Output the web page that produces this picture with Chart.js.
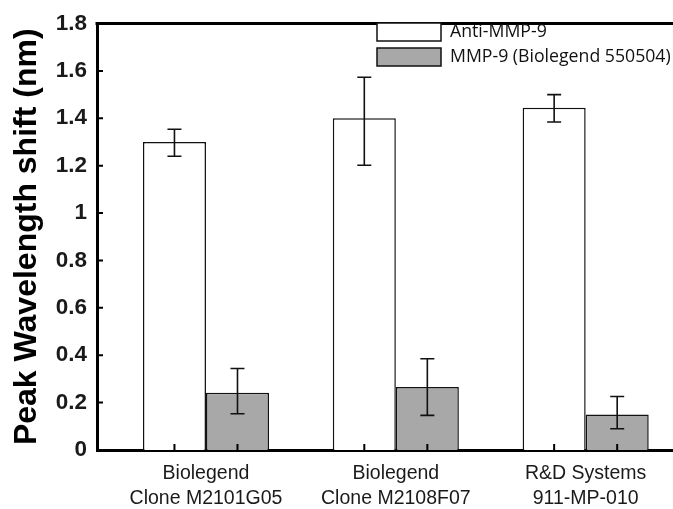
<!DOCTYPE html>
<html>
<head>
<meta charset="utf-8">
<script src="https://cdn.jsdelivr.net/npm/chart.js@4.4.1/dist/chart.umd.min.js"></script>
<style>
  html, body { margin: 0; padding: 0; background: #fff; overflow: hidden; }
</style>
</head>
<body>
<canvas id="chart" width="673" height="509"></canvas>
<script>
// categories (two-line labels)
const categories = [
  ['Biolegend', 'Clone M2101G05'],
  ['Biolegend', 'Clone M2108F07'],
  ['R&D Systems', '911-MP-010']
];
const seriesNames = ['Anti-MMP-9', 'MMP-9 (Biolegend 550504)'];

const antiValues = [1.30, 1.40, 1.444];
const antiLow = [1.240, 1.202, 1.384];
const antiHigh = [1.354, 1.573, 1.500];

const mmpValues = [0.242, 0.266, 0.150];
const mmpLow = [0.153, 0.146, 0.090];
const mmpHigh = [0.344, 0.385, 0.226];

const yTicks = [0, 0.2, 0.4, 0.6, 0.8, 1, 1.2, 1.4, 1.6, 1.8];

const errLows = [antiLow, mmpLow];
const errHighs = [antiHigh, mmpHigh];

// error bars, inner tick marks, top frame line, legend
const extras = {
  id: 'extras',
  afterDatasetsDraw(chart) {
    const ctx = chart.ctx;
    const y = chart.scales.y;
    ctx.save();
    ctx.strokeStyle = '#111';
    ctx.lineWidth = 1.6;
    chart.data.datasets.forEach((ds, d) => {
      chart.getDatasetMeta(d).data.forEach((bar, i) => {
        const yl = y.getPixelForValue(errLows[d][i]);
        const yh = y.getPixelForValue(errHighs[d][i]);
        ctx.beginPath();
        ctx.moveTo(bar.x, yl); ctx.lineTo(bar.x, yh);
        ctx.moveTo(bar.x - 7, yl); ctx.lineTo(bar.x + 7, yl);
        ctx.moveTo(bar.x - 7, yh); ctx.lineTo(bar.x + 7, yh);
        ctx.stroke();
      });
    });
    ctx.restore();
  },
  afterDraw(chart) {
    const ctx = chart.ctx;
    const a = chart.chartArea;
    const y = chart.scales.y;
    ctx.save();
    ctx.strokeStyle = '#000';
    // top frame
    ctx.lineWidth = 3;
    ctx.beginPath();
    ctx.moveTo(a.left - 1.5, a.top); ctx.lineTo(a.right, a.top);
    ctx.stroke();
    // inner ticks
    ctx.lineWidth = 2;
    ctx.beginPath();
    y.ticks.forEach(t => {
      const py = y.getPixelForValue(t.value);
      ctx.moveTo(a.left, py); ctx.lineTo(a.left + 6, py);
    });
    chart.data.datasets.forEach((ds, d) => {
      chart.getDatasetMeta(d).data.forEach(bar => {
        ctx.moveTo(bar.x, a.bottom); ctx.lineTo(bar.x, a.bottom - 6);
      });
    });
    ctx.stroke();
    // legend
    ctx.font = '17.7px "Open Sans"';
    ctx.textBaseline = 'middle';
    chart.data.datasets.forEach((ds, d) => {
      const bx = 377, by = 23 + d * 25;
      ctx.fillStyle = ds.backgroundColor;
      ctx.fillRect(bx, by, 64, 18);
      ctx.lineWidth = 1.5;
      ctx.strokeStyle = '#111';
      ctx.strokeRect(bx, by, 64, 18);
      ctx.fillStyle = '#111';
      ctx.fillText(ds.label, 450, by + 9);
    });
    ctx.restore();
  }
};

new Chart(document.getElementById('chart'), {
  type: 'bar',
  data: {
    datasets: [
      {
        label: seriesNames[0],
        data: antiValues.map((v, i) => ({ x: i, y: v })),
        backgroundColor: '#ffffff',
        borderColor: '#111',
        borderWidth: 1.5
      },
      {
        label: seriesNames[1],
        data: mmpValues.map((v, i) => ({ x: i, y: v })),
        backgroundColor: '#a8a8a8',
        borderColor: '#111',
        borderWidth: 1.5
      }
    ]
  },
  options: {
    responsive: false,
    animation: false,
    devicePixelRatio: 1,
    categoryPercentage: 0.664,
    barPercentage: 1,
    layout: { padding: { top: 16, right: 0, bottom: 0, left: 0 } },
    plugins: { legend: { display: false }, tooltip: { enabled: false } },
    scales: {
      x: {
        type: 'linear',
        offset: false,
        min: -0.574,
        max: 2.46,
        afterBuildTicks: s => { s.ticks = categories.map((c, i) => ({ value: i })); },
        afterFit: s => { s.height = 59; },
        grid: { display: false, drawTicks: false, offset: false },
        border: { display: true, width: 3, color: '#000' },
        ticks: {
          callback: v => categories[v],
          autoSkip: false,
          maxRotation: 0,
          padding: 11,
          color: '#1a1a1a',
          font: { family: '"Liberation Sans", Arial', size: 19.5, lineHeight: 1.28 }
        }
      },
      y: {
        min: 0,
        max: 1.8,
        afterBuildTicks: s => { s.ticks = yTicks.map(v => ({ value: v })); },
        afterFit: s => { s.width = 97; },
        grid: { display: false, drawTicks: false },
        border: { display: true, width: 3, color: '#000' },
        ticks: {
          callback: v => String(+v.toFixed(1)),
          padding: 10,
          color: '#1a1a1a',
          font: { family: '"Liberation Sans", Arial', size: 22.5, weight: 'bold' }
        },
        title: {
          display: true,
          text: 'Peak Wavelength shift (nm)',
          color: '#000',
          padding: { top: 8, bottom: 0 },
          font: { family: '"Liberation Sans", Arial', size: 32, weight: 'bold' }
        }
      }
    }
  },
  plugins: [extras]
});
</script>
</body>
</html>
